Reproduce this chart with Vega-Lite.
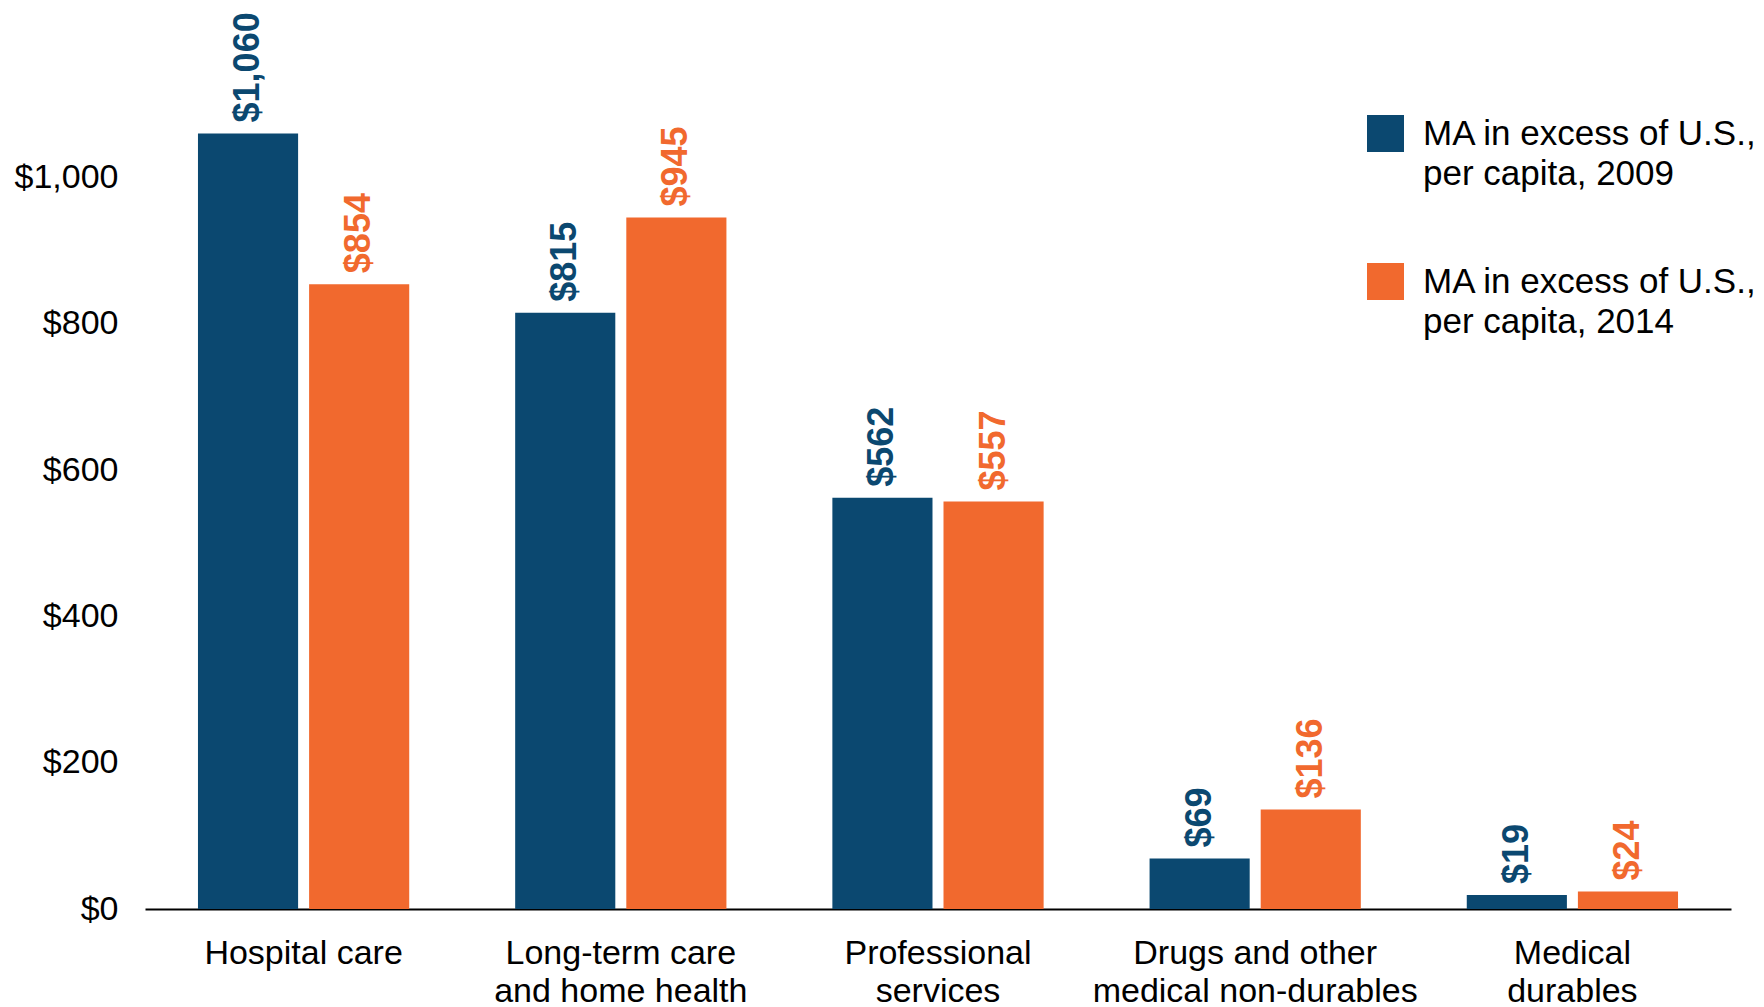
{
  "$schema": "https://vega.github.io/schema/vega-lite/v6.json",
  "width": 1586,
  "height": 878,
  "autosize": {"type": "none"},
  "padding": {"left": 145, "top": 31, "right": 33, "bottom": 98},
  "background": "white",
  "config": {"view": {"stroke": null}, "font": "Liberation Sans"},
  "data": {
    "values": [
      {"category": "Hospital care", "series": "MA in excess of U.S., per capita, 2009", "value": 1060},
      {"category": "Hospital care", "series": "MA in excess of U.S., per capita, 2014", "value": 854},
      {"category": "Long-term care and home health", "series": "MA in excess of U.S., per capita, 2009", "value": 815},
      {"category": "Long-term care and home health", "series": "MA in excess of U.S., per capita, 2014", "value": 945},
      {"category": "Professional services", "series": "MA in excess of U.S., per capita, 2009", "value": 562},
      {"category": "Professional services", "series": "MA in excess of U.S., per capita, 2014", "value": 557},
      {"category": "Drugs and other medical non-durables", "series": "MA in excess of U.S., per capita, 2009", "value": 69},
      {"category": "Drugs and other medical non-durables", "series": "MA in excess of U.S., per capita, 2014", "value": 136},
      {"category": "Medical durables", "series": "MA in excess of U.S., per capita, 2009", "value": 19},
      {"category": "Medical durables", "series": "MA in excess of U.S., per capita, 2014", "value": 24}
    ]
  },
  "encoding": {
    "x": {
      "field": "category",
      "type": "nominal",
      "sort": null,
      "scale": {"paddingInner": 0.334, "paddingOuter": 0.167},
      "axis": {
        "title": null,
        "ticks": false,
        "domainColor": "#000000",
        "domainWidth": 2,
        "labelAngle": 0,
        "labelFontSize": 34,
        "labelColor": "#000000",
        "labelPadding": 27,
        "labelLineHeight": 38,
        "labelLimit": 0,
        "labelExpr": "datum.value == 'Long-term care and home health' ? ['Long-term care','and home health'] : datum.value == 'Professional services' ? ['Professional','services'] : datum.value == 'Drugs and other medical non-durables' ? ['Drugs and other','medical non-durables'] : datum.value == 'Medical durables' ? ['Medical','durables'] : datum.label"
      }
    },
    "xOffset": {
      "field": "series",
      "type": "nominal",
      "scale": {"paddingInner": 0.099, "paddingOuter": 0}
    },
    "y": {
      "field": "value",
      "type": "quantitative",
      "scale": {"domain": [0, 1200], "nice": false},
      "axis": {
        "title": null,
        "values": [0, 200, 400, 600, 800, 1000],
        "format": "$,d",
        "domain": false,
        "ticks": false,
        "grid": false,
        "labelFontSize": 34,
        "labelColor": "#000000",
        "labelPadding": 27
      }
    },
    "color": {
      "field": "series",
      "type": "nominal",
      "scale": {"range": ["#0B4870", "#F1692E"]},
      "legend": {
        "title": null,
        "orient": "none",
        "legendX": 1222,
        "legendY": 84,
        "symbolType": "square",
        "symbolSize": 1369,
        "symbolStrokeWidth": 0,
        "symbolOpacity": 1,
        "labelFontSize": 35,
        "labelColor": "#000000",
        "labelOffset": 19,
        "labelLimit": 0,
        "rowPadding": 71,
        "labelBaseline": "middle",
        "labelExpr": "[slice(datum.label, 0, 21), slice(datum.label, 22)]",
        "encode": {"labels": {"update": {"lineHeight": {"value": 40}}}}
      }
    }
  },
  "layer": [
    {"mark": {"type": "bar"}},
    {
      "mark": {"type": "text", "angle": 270, "align": "left", "baseline": "middle", "dx": 11, "fontSize": 36, "fontWeight": "bold"},
      "encoding": {"text": {"field": "value", "type": "quantitative", "format": "$,d"}}
    }
  ]
}
